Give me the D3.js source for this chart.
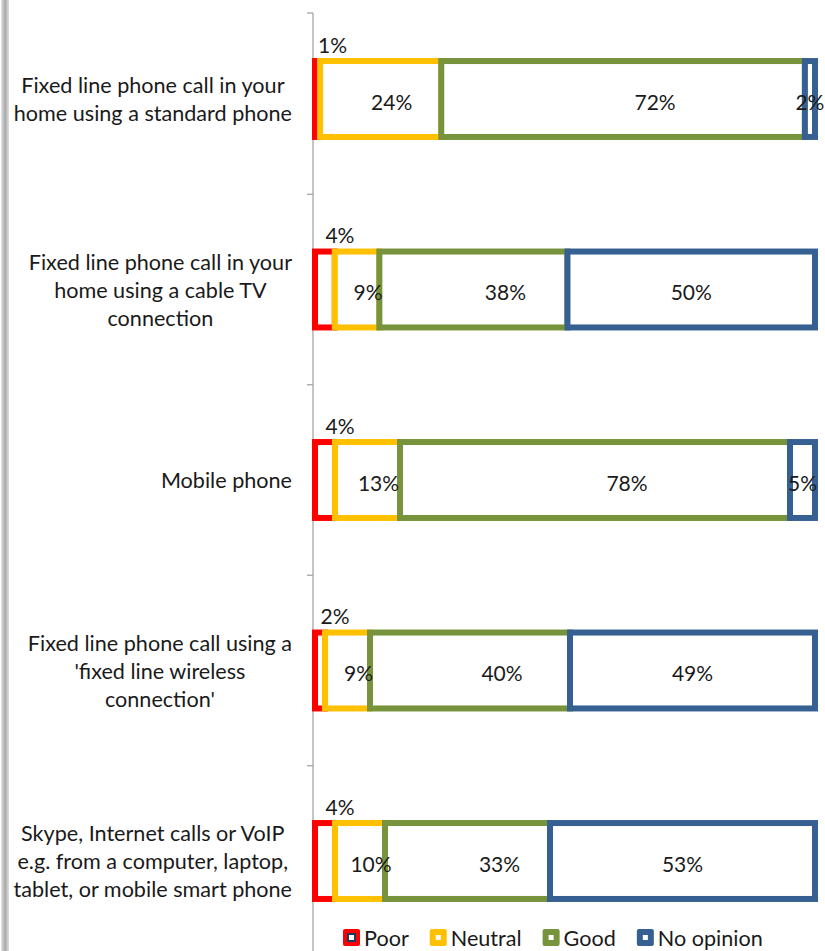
<!DOCTYPE html>
<html><head><meta charset="utf-8">
<script src="https://cdn.jsdelivr.net/npm/d3@7"></script>
<style>html,body{margin:0;padding:0;background:#fff;}</style>
</head><body>
<svg id="chart" width="825" height="951"></svg>
<script>
const categories = [
  ["Fixed line phone call in your", "home using a standard phone"],
  ["Fixed line phone call in your", "home using a cable TV", "connection"],
  ["Mobile phone"],
  ["Fixed line phone call using a", "'fixed line wireless", "connection'"],
  ["Skype, Internet calls or VoIP", "e.g. from a computer, laptop,", "tablet, or mobile smart phone"]
];
const seriesNames = ["Poor", "Neutral", "Good", "No opinion"];
const poor      = [1, 4, 4, 2, 4];
const neutral   = [24, 9, 13, 9, 10];
const good      = [72, 38, 78, 40, 33];
const noOpinion = [2, 50, 5, 49, 53];

const colors = ["#ff0000", "#ffc000", "#77933c", "#376092"];
const labelDx = [15, 11, 32, 0];
const FONT = "Lato, 'Open Sans', sans-serif";
const FS = 21;
const CAT_FS = 21.6;

const svg = d3.select("#chart");
const ids = categories.map((c, i) => "c" + i);
const values = [poor, neutral, good, noOpinion];

// left shadow
const defs = svg.append("defs");
const grad = defs.append("linearGradient").attr("id", "shade").attr("x1", "0").attr("x2", "1");
grad.append("stop").attr("offset", "0").attr("stop-color", "#e6e6e6");
grad.append("stop").attr("offset", "0.5").attr("stop-color", "#a8a8a8");
grad.append("stop").attr("offset", "1").attr("stop-color", "#e0e0e0");
svg.append("rect").attr("x", 1).attr("y", 0).attr("width", 8).attr("height", 951).attr("fill", "url(#shade)");

const y = d3.scaleBand().domain(ids).range([3.75, 956.25]).paddingInner(0.57).paddingOuter(0.285);
const x = d3.scaleLinear().domain([0, 1]).range([315, 815]);

// axis
const axisG = svg.append("g").attr("transform", "translate(313,0)");
axisG.append("line").attr("x1", 0).attr("x2", 0).attr("y1", 13).attr("y2", 951)
  .attr("stroke", "#a6a6a6").attr("stroke-width", 1.3);
const tickYs = [13].concat(ids.slice(1).map(id => y(id) - y.step() * y.paddingInner() / 2));
axisG.selectAll("line.tick").data(tickYs).join("line").attr("class", "tick")
  .attr("x1", -6).attr("x2", 0).attr("y1", d => d).attr("y2", d => d)
  .attr("stroke", "#a6a6a6").attr("stroke-width", 1.3);

// stacked data (normalized)
const rows = ids.map((id, i) => {
  const vals = values.map(s => s[i]);
  const total = d3.sum(vals);
  let cum = 0;
  return vals.map((v, s) => {
    const r = {id, s, v, x0: cum / total, x1: (cum + v) / total};
    cum += v;
    return r;
  });
});

const segs = [];
for (let s = 0; s < 4; s++) rows.forEach(r => segs.push(r[s]));

const barG = svg.append("g");
barG.selectAll("rect").data(segs).join("rect")
  .attr("x", d => x(d.x0))
  .attr("y", d => y(d.id) + 3)
  .attr("width", d => Math.max(x(d.x1) - x(d.x0), 0.5))
  .attr("height", y.bandwidth() - 6)
  .attr("fill", "#fff")
  .attr("stroke", d => colors[d.s])
  .attr("stroke-width", 6)
  .attr("stroke-linejoin", "miter");

// data labels
svg.append("g").selectAll("text").data(segs).join("text")
  .attr("x", d => (x(d.x0) + x(d.x1)) / 2 + labelDx[d.s])
  .attr("y", d => d.s === 0 ? y(d.id) - 14 : y(d.id) + y.bandwidth() / 2 + 2)
  .attr("text-anchor", "middle")
  .attr("dominant-baseline", "central")
  .attr("font-family", FONT).attr("font-size", FS).attr("fill", "#1a1a1a")
  .text(d => d.v + "%");

// category labels
const labG = svg.append("g");
categories.forEach((lines, i) => {
  const cy = y(ids[i]) + y.bandwidth() / 2;
  const lh = 28;
  const t = labG.append("text")
    .attr("font-family", FONT).attr("font-size", CAT_FS).attr("fill", "#1a1a1a")
    .attr("text-anchor", "middle");
  lines.forEach((ln, k) => {
    t.append("tspan").attr("y", cy + (k - (lines.length - 1) / 2) * lh)
      .attr("dominant-baseline", "central").text(ln);
  });
  let maxW = 0;
  t.selectAll("tspan").each(function() { maxW = Math.max(maxW, this.getComputedTextLength()); });
  t.selectAll("tspan").attr("x", 292 - maxW / 2);
});

// legend
const legend = svg.append("g").attr("transform", "translate(343,938)");
let lx = 0;
seriesNames.forEach((name, s) => {
  const g = legend.append("g").attr("transform", `translate(${lx},0)`);
  g.append("rect").attr("x", 0).attr("y", -9).attr("width", 17).attr("height", 17).attr("rx", 2)
    .attr("fill", colors[s]);
  if (s === 0) g.append("rect").attr("x", 4).attr("y", -5).attr("width", 9).attr("height", 9).attr("fill", "#1f3864");
  g.append("rect").attr("x", 6).attr("y", -3).attr("width", 5).attr("height", 5).attr("fill", "#fff");
  const tx = g.append("text").attr("x", 21).attr("y", 0).attr("dominant-baseline", "central")
    .attr("font-family", FONT).attr("font-size", CAT_FS).attr("fill", "#1a1a1a").text(name);
  lx += 21 + tx.node().getComputedTextLength() + 21;
});
</script>
</body></html>
